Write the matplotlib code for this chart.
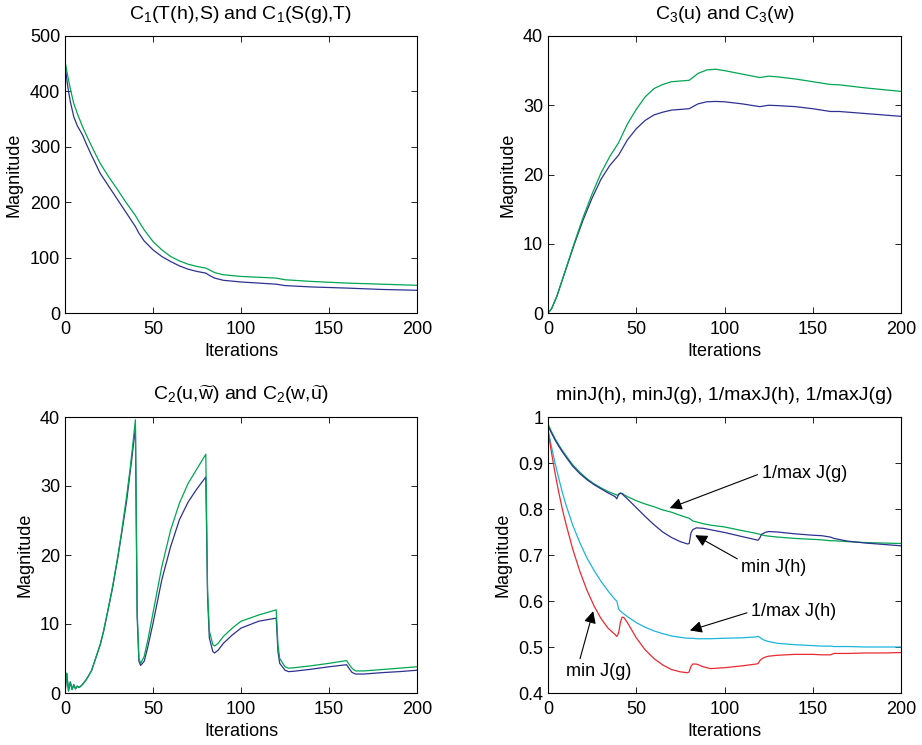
import matplotlib
matplotlib.use("Agg")
import matplotlib.pyplot as plt
from matplotlib.ticker import FuncFormatter

plt.rcParams["font.family"] = ["Liberation Sans", "DejaVu Sans"]
plt.rcParams["mathtext.fontset"] = "custom"
plt.rcParams["mathtext.rm"] = "Liberation Sans"
plt.rcParams["mathtext.it"] = "Liberation Sans:italic"

BLUE = "#2E3192"
GREEN = "#00A651"
RED = "#EA2A33"
CYAN = "#1CB4DC"

# panel 1: C1(T(h),S) and C1(S(g),T)
iters1 = [0, 1, 2, 3, 5, 7, 10, 12, 15, 17, 20, 25, 30, 35, 40, 42, 45, 50,
          55, 60, 65, 70, 75, 80, 82, 85, 90, 100, 110, 120, 125, 140, 160,
          180, 200]
c1_green = [455, 437, 421, 405, 378, 360, 336, 322, 302, 289, 270, 245, 222,
            198, 176, 165, 150, 129, 114, 102, 94, 88, 84, 81, 78, 73, 69, 66,
            64.5, 63, 60, 57, 54, 52, 50]
c1_blue = [450, 422, 400, 382, 354, 338, 321, 306, 285, 272, 252, 228, 204,
           180, 156, 144, 130, 114, 102, 93, 85, 79, 75, 72, 68, 63, 59, 56,
           54, 52, 49.5, 47, 45, 42.5, 41]

# panel 2: C3(u) and C3(w)
iters2 = [0, 2, 5, 10, 15, 20, 25, 30, 35, 40, 45, 50, 55, 60, 65, 70, 80,
          85, 90, 95, 100, 110, 120, 125, 130, 140, 150, 160, 165, 180, 200]
c3_green = [0, 0.6, 2.4, 6.3, 10.2, 13.9, 17.2, 20.2, 22.6, 24.6, 27.3, 29.4,
            31.2, 32.4, 33.0, 33.4, 33.6, 34.6, 35.1, 35.2, 35.0, 34.5, 34.0,
            34.2, 34.1, 33.8, 33.4, 33.0, 32.95, 32.5, 32.0]
c3_blue = [0, 0.6, 2.4, 6.2, 10.0, 13.5, 16.6, 19.3, 21.3, 22.8, 25.0, 26.6,
           27.8, 28.6, 29.0, 29.3, 29.5, 30.2, 30.5, 30.55, 30.5, 30.2, 29.8,
           30.0, 29.95, 29.8, 29.5, 29.1, 29.1, 28.8, 28.4]

# panel 3: C2(u,w~) and C2(w,u~)
iters3 = [0, 1, 2, 3, 4, 5, 6, 7, 8, 9, 10, 12, 15, 17, 20, 22, 25, 27, 30,
          32, 35, 37, 38, 39, 40, 41, 42, 43, 45, 47, 50, 55, 60, 65, 70, 75,
          80, 81, 82, 84, 85, 87, 90, 95, 100, 110, 120, 121, 122, 125, 127,
          130, 140, 150, 160, 161, 163, 165, 170, 180, 190, 200]
c2_green = [0.1, 2.85, 0.3, 1.6, 0.5, 1.2, 0.6, 1.0, 0.8, 1.0, 1.25, 1.9, 3.2,
            4.7, 7.0, 9.1, 12.8, 15.4, 19.8, 23.1, 28.5, 32.5, 34.8, 37.2,
            39.6, 12.0, 5.0, 4.3, 5.3, 7.6, 11.6, 18.3, 23.6, 27.5, 30.4, 32.5,
            34.6, 15.0, 9.0, 7.0, 6.8, 7.2, 8.2, 9.4, 10.4, 11.3, 12.05, 7.0,
            5.0, 3.8, 3.6, 3.65, 3.95, 4.3, 4.7, 4.3, 3.6, 3.2, 3.2, 3.4, 3.6,
            3.8]
c2_blue = [0.1, 2.85, 0.3, 1.6, 0.5, 1.2, 0.6, 1.0, 0.8, 1.0, 1.25, 1.9, 3.2,
           4.7, 7.0, 9.0, 12.7, 15.2, 19.6, 22.8, 27.8, 32.0, 34.0, 36.3,
           38.5, 11.0, 4.6, 4.0, 4.6, 6.6, 10.1, 16.4, 21.2, 25.1, 27.7, 29.6,
           31.3, 14.0, 8.0, 6.0, 5.8, 6.2, 7.2, 8.4, 9.4, 10.4, 10.85, 6.0,
           4.3, 3.3, 3.1, 3.15, 3.45, 3.8, 4.1, 3.7, 3.0, 2.75, 2.75, 2.95,
           3.1, 3.3]

# panel 4: minJ(h), minJ(g), 1/maxJ(h), 1/maxJ(g)
iters4 = [0, 2, 4, 6, 8, 10, 14, 18, 22, 26, 30, 34, 38, 39, 40, 41, 42, 43,
          45, 50, 55, 60, 65, 70, 75, 79, 80, 81, 82, 84, 88, 92, 100, 110,
          118, 119, 120, 121, 123, 125, 130, 140, 150, 155, 160, 162, 170, 180,
          190, 200]
min_jh = [0.980, 0.965, 0.950, 0.937, 0.925, 0.914, 0.893, 0.877, 0.864,
          0.853, 0.844, 0.835, 0.827, 0.822, 0.832, 0.834, 0.833, 0.829,
          0.822, 0.803, 0.784, 0.766, 0.750, 0.738, 0.729, 0.724, 0.725,
          0.748, 0.755, 0.759, 0.758, 0.755, 0.749, 0.740, 0.733, 0.732,
          0.737, 0.745, 0.749, 0.751, 0.750, 0.746, 0.743, 0.742, 0.739,
          0.736, 0.730, 0.726, 0.723, 0.720]
inv_max_jg = [0.985, 0.968, 0.953, 0.940, 0.928, 0.917, 0.896, 0.880, 0.866,
              0.855, 0.846, 0.838, 0.832, 0.830, 0.831, 0.835, 0.834, 0.831,
              0.827, 0.818, 0.811, 0.805, 0.798, 0.793, 0.786, 0.781, 0.780,
              0.777, 0.774, 0.772, 0.768, 0.765, 0.761, 0.753, 0.747, 0.746,
              0.745, 0.744, 0.742, 0.741, 0.739, 0.736, 0.734, 0.733, 0.731,
              0.731, 0.729, 0.727, 0.726, 0.725]
inv_max_jh = [0.972, 0.935, 0.900, 0.868, 0.838, 0.811, 0.765, 0.727, 0.694,
              0.667, 0.643, 0.622, 0.603, 0.600, 0.583, 0.578, 0.575, 0.572,
              0.566, 0.553, 0.543, 0.535, 0.529, 0.524, 0.521, 0.519, 0.519,
              0.519, 0.519, 0.518, 0.518, 0.518, 0.519, 0.520, 0.522, 0.523,
              0.521, 0.518, 0.514, 0.512, 0.508, 0.505, 0.503, 0.502, 0.502,
              0.501, 0.501, 0.500, 0.500, 0.500]
min_jg = [0.970, 0.922, 0.878, 0.838, 0.802, 0.770, 0.713, 0.665, 0.624,
          0.590, 0.562, 0.541, 0.527, 0.523, 0.530, 0.553, 0.565, 0.564,
          0.553, 0.520, 0.494, 0.475, 0.461, 0.451, 0.446, 0.444, 0.446,
          0.458, 0.463, 0.463, 0.457, 0.453, 0.455, 0.459, 0.463, 0.464,
          0.470, 0.474, 0.478, 0.480, 0.482, 0.484, 0.484, 0.483, 0.483,
          0.486, 0.486, 0.487, 0.487, 0.488]

W, H = 922, 745
fig = plt.figure(figsize=(W / 100, H / 100), dpi=100)


def make_axis(left, top, right, bottom):
    ax = fig.add_axes([left / W, 1 - bottom / H, (right - left) / W,
                       (bottom - top) / H])
    ax.tick_params(direction="in", top=True, right=True, length=4,
                   width=0.6, labelsize=13)
    ax.tick_params(axis="x", pad=6)
    ax.tick_params(axis="y", pad=3.5)
    for spine in ax.spines.values():
        spine.set_linewidth(0.8)
    ax.yaxis.set_major_formatter(FuncFormatter(lambda v, p: f"{v:g}"))
    ax.set_xlim(0, 200)
    ax.set_xticks([0, 50, 100, 150, 200])
    ax.set_xlabel("Iterations", fontsize=13, labelpad=3)
    ax.set_ylabel("Magnitude", fontsize=13, labelpad=5)
    return ax


lw = 0.9

ax1 = make_axis(65, 36, 417, 313)
ax1.plot(iters1, c1_blue, color=BLUE, lw=lw)
ax1.plot(iters1, c1_green, color=GREEN, lw=lw)
ax1.set_ylim(0, 500)
ax1.set_yticks(range(0, 501, 100))
ax1.set_title(r"C$_1$(T(h),S) and C$_1$(S(g),T)", fontsize=14, pad=12)

ax2 = make_axis(548, 36, 901, 313)
ax2.plot(iters2, c3_blue, color=BLUE, lw=lw)
ax2.plot(iters2, c3_green, color=GREEN, lw=lw)
ax2.set_ylim(0, 40)
ax2.set_yticks(range(0, 41, 10))
ax2.set_title(r"C$_3$(u) and C$_3$(w)", fontsize=14, pad=12)

ax3 = make_axis(65, 417, 417, 693)
ax3.plot(iters3, c2_blue, color=BLUE, lw=lw)
ax3.plot(iters3, c2_green, color=GREEN, lw=lw)
ax3.set_ylim(0, 40)
ax3.set_yticks(range(0, 41, 10))
ax3.set_title(r"C$_2$(u,$\widetilde{\mathrm{w}}$) and C$_2$(w,$\widetilde{\mathrm{u}}$)",
              fontsize=14, pad=12)

ax4 = make_axis(548, 417, 901, 693)
ax4.plot(iters4, inv_max_jh, color=CYAN, lw=lw)
ax4.plot(iters4, min_jg, color=RED, lw=lw)
ax4.plot(iters4, inv_max_jg, color=GREEN, lw=lw)
ax4.plot(iters4, min_jh, color=BLUE, lw=lw)
ax4.set_ylim(0.4, 1)
ax4.set_yticks([0.4, 0.5, 0.6, 0.7, 0.8, 0.9, 1.0])
ax4.set_title("minJ(h), minJ(g), 1/maxJ(h), 1/maxJ(g)", fontsize=14, pad=12)


def arrow(text, tip, pos, ha, rel):
    ax4.annotate(text, xy=tip, xytext=pos, ha=ha, va="center", fontsize=13,
                 arrowprops=dict(arrowstyle="-|>", color="black", lw=0.8,
                                 mutation_scale=18, shrinkA=1, shrinkB=0,
                                 relpos=rel))


arrow("1/max J(g)", (69, 0.802), (121, 0.878), "left", (0, 0.5))
arrow("min J(h)", (83.4, 0.743), (109.5, 0.672), "left", (0, 0.9))
arrow("1/max J(h)", (80.4, 0.536), (115, 0.577), "left", (0, 0.5))
arrow("min J(g)", (25.6, 0.578), (28.6, 0.447), "center", (0.2, 1))

fig.savefig("out.png", dpi=100)
